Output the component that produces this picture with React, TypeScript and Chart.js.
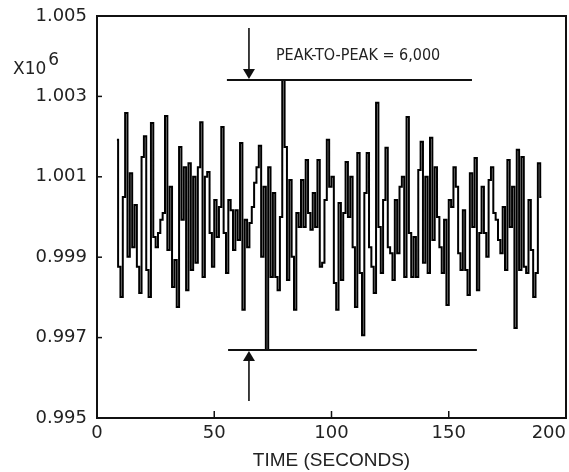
import React, { useEffect, useRef } from 'react';
import { Chart, registerables } from 'chart.js';

Chart.register(...registerables);

// Sampling of the record (seconds)
const START_TIME = 8.5;
const SAMPLE_INTERVAL = 1;

// Signal values (x 10^6)
const signalValues = [
  1.00192, 0.99876, 0.99801, 1.0005, 1.00259, 0.99901, 1.00109, 0.99925, 1.0003, 0.99876,
  0.99811, 1.00149, 1.00201, 0.99868, 0.99801, 1.00234, 0.9995, 0.99925, 0.9996, 0.99993,
  1.0001, 1.00251, 0.99918, 1.00075, 0.99826, 0.99893, 0.99776, 1.00174, 0.99993, 1.00124,
  0.99818, 1.00134, 0.99868, 1.001, 0.99886, 1.00124, 1.00236, 0.99851, 1.001, 1.00112,
  0.9996, 0.99876, 1.00042, 0.9995, 1.00025, 1.00224, 0.9996, 0.99861, 1.00042, 1.00017,
  0.99918, 1.00017, 0.99943, 1.00184, 0.99769, 0.99993, 0.99925, 0.99985, 1.00025, 1.00085,
  1.00124, 1.00177, 0.99901, 1.00075, 0.99669, 1.00124, 0.99851, 1.0006, 0.99851, 0.99818,
  1.0, 1.00341, 1.00174, 0.99843, 1.00092, 0.99901, 0.99769, 1.0001, 0.99975, 1.00092,
  0.99975, 1.00142, 1.0001, 0.99968, 1.0006, 0.99975, 1.00142, 0.99876, 0.99886, 1.00042,
  1.00192, 1.00075, 1.001, 0.99836, 0.99769, 1.00035, 0.99843, 1.0001, 1.00137, 1.0,
  1.001, 0.99925, 0.99776, 1.00159, 0.99861, 0.99706, 1.0006, 1.00159, 0.99925, 0.99876,
  0.99811, 1.00284, 0.99975, 0.99861, 1.00042, 1.00172, 0.99925, 0.9991, 0.99843, 1.00042,
  0.9991, 1.00075, 1.001, 0.99851, 1.00249, 0.9996, 0.99851, 0.9995, 0.99851, 1.00117,
  1.00187, 0.99886, 1.001, 0.99861, 1.00197, 0.99943, 1.00124, 1.0, 0.99925, 0.99861,
  0.99993, 0.99781, 1.00042, 1.00025, 1.00124, 1.00075, 0.9991, 0.99868, 1.00017, 0.99868,
  0.99806, 1.00109, 0.99975, 1.00147, 0.99818, 0.9996, 1.00075, 0.9996, 0.99901, 1.00092,
  1.00124, 1.0001, 0.99993, 0.99943, 0.9991, 1.00025, 0.99868, 1.00142, 0.99975, 1.00075,
  0.99724, 1.00167, 0.99868, 1.00149, 0.99876, 0.99861, 1.00042, 0.99918, 0.99801, 0.99861,
  1.00134, 1.0005,
];

// Axes
const xTickValues = [0, 50, 100, 150, 200];
const yTickValues = [0.995, 0.997, 0.999, 1.001, 1.003, 1.005];
const xAxisTitle = 'TIME (SECONDS)';
const yScaleNote = 'X10';
const yScaleExponent = '6';

// Peak-to-peak annotation
const annotationText = 'PEAK-TO-PEAK = 6,000';
const peakLineTimes = [55.4, 159.9];
const troughLineTimes = [55.9, 162.0];
const arrowTime = 64.8;
const arrowTopValue = 1.0047;
const arrowBottomValue = 0.99542;
const annotationTextTime = 76.3;
const annotationTextValue = 1.004;

const INK = '#111';
const TICK_FONT = '"DejaVu Sans", sans-serif';

const decorPlugin = {
  id: 'decor',
  afterDraw(chart: any) {
    const { ctx, chartArea } = chart;
    const xs = chart.scales.x;
    const ys = chart.scales.y;
    ctx.save();
    ctx.strokeStyle = INK;
    ctx.fillStyle = INK;
    // frame
    ctx.lineWidth = 2;
    ctx.strokeRect(chartArea.left, chartArea.top, chartArea.right - chartArea.left, chartArea.bottom - chartArea.top);
    // inward ticks
    ctx.lineWidth = 1.5;
    yTickValues.forEach((v) => {
      if (v === yTickValues[0] || v === yTickValues[yTickValues.length - 1]) return;
      const py = ys.getPixelForValue(v);
      ctx.beginPath();
      ctx.moveTo(chartArea.left, py);
      ctx.lineTo(chartArea.left + 5, py);
      ctx.stroke();
    });
    xTickValues.forEach((v) => {
      if (v === xTickValues[0] || v === xTickValues[xTickValues.length - 1]) return;
      const px = xs.getPixelForValue(v);
      ctx.beginPath();
      ctx.moveTo(px, chartArea.bottom);
      ctx.lineTo(px, chartArea.bottom - 7);
      ctx.stroke();
    });

    // peak / trough lines
    const peak = Math.max(...signalValues);
    const trough = Math.min(...signalValues);
    const pY = ys.getPixelForValue(peak);
    const tY = ys.getPixelForValue(trough);
    ctx.lineWidth = 2;
    ctx.beginPath();
    ctx.moveTo(xs.getPixelForValue(peakLineTimes[0]), pY);
    ctx.lineTo(xs.getPixelForValue(peakLineTimes[1]), pY);
    ctx.moveTo(xs.getPixelForValue(troughLineTimes[0]), tY);
    ctx.lineTo(xs.getPixelForValue(troughLineTimes[1]), tY);
    ctx.stroke();

    // arrows
    const ax = xs.getPixelForValue(arrowTime);
    const topY = ys.getPixelForValue(arrowTopValue);
    const botY = ys.getPixelForValue(arrowBottomValue);
    const hw = 6;
    const hh = 11;
    ctx.lineWidth = 1.6;
    ctx.beginPath();
    ctx.moveTo(ax, topY);
    ctx.lineTo(ax, pY - hh + 1);
    ctx.moveTo(ax, botY);
    ctx.lineTo(ax, tY + hh - 1);
    ctx.stroke();
    ctx.beginPath();
    ctx.moveTo(ax - hw, pY - hh);
    ctx.lineTo(ax + hw, pY - hh);
    ctx.lineTo(ax, pY - 1);
    ctx.closePath();
    ctx.fill();
    ctx.beginPath();
    ctx.moveTo(ax - hw, tY + hh);
    ctx.lineTo(ax + hw, tY + hh);
    ctx.lineTo(ax, tY + 1);
    ctx.closePath();
    ctx.fill();

    // annotation text
    ctx.font = '16px "Liberation Sans Narrow", "DejaVu Sans Condensed", sans-serif';
    ctx.textAlign = 'left';
    ctx.textBaseline = 'middle';
    ctx.fillStyle = '#222';
    ctx.fillText(annotationText, xs.getPixelForValue(annotationTextTime), ys.getPixelForValue(annotationTextValue));

    // x10^6 note
    ctx.font = '17px ' + TICK_FONT;
    ctx.textBaseline = 'alphabetic';
    const nx = chartArea.left - 84;
    const ny = chartArea.top + 58;
    ctx.fillText(yScaleNote, nx, ny);
    const w = ctx.measureText(yScaleNote).width;
    ctx.fillText(yScaleExponent, nx + w + 2, ny - 9);
    ctx.restore();
  },
};

export default function App() {
  const canvasRef = useRef<HTMLCanvasElement | null>(null);

  useEffect(() => {
    if (!canvasRef.current) return;
    const points = signalValues.map((v, i) => ({ x: START_TIME + i * SAMPLE_INTERVAL, y: v }));
    const chart = new Chart(canvasRef.current, {
      type: 'line',
      data: {
        datasets: [
          {
            data: points,
            borderColor: '#000',
            borderWidth: 2,
            pointRadius: 0,
            stepped: 'middle',
          },
        ],
      },
      options: {
        responsive: false,
        animation: false,
        events: [],
        layout: { autoPadding: false, padding: { top: 16, right: 3, left: 0, bottom: 0 } },
        plugins: { legend: { display: false }, tooltip: { enabled: false } },
        scales: {
          x: {
            type: 'linear',
            min: 0,
            max: 200,
            afterBuildTicks: (s: any) => {
              s.ticks = xTickValues.map((v) => ({ value: v }));
            },
            afterFit: (s: any) => {
              s.height = 54;
              s.paddingLeft = 0;
              s.paddingRight = 0;
            },
            grid: { display: false, drawTicks: false },
            border: { display: false },
            ticks: {
              autoSkip: false,
              maxRotation: 0,
              padding: 5,
              color: '#222',
              font: { family: TICK_FONT, size: 18 },
              callback: (v: any) => (v === 200 ? '200      ' : String(v)),
            },
            title: {
              display: true,
              text: xAxisTitle,
              color: '#222',
              font: { family: '"Liberation Sans", sans-serif', size: 19 },
              padding: { top: 0, bottom: 0 },
            },
          },
          y: {
            type: 'linear',
            min: 0.995,
            max: 1.005,
            afterBuildTicks: (s: any) => {
              s.ticks = yTickValues.map((v) => ({ value: v }));
            },
            afterFit: (s: any) => {
              s.width = 97;
              s.paddingTop = 0;
              s.paddingBottom = 0;
            },
            grid: { display: false, drawTicks: false },
            border: { display: false },
            ticks: {
              padding: 10,
              color: '#222',
              font: { family: TICK_FONT, size: 18 },
              callback: (v: any) => Number(v).toFixed(3),
            },
          },
        },
      },
      plugins: [decorPlugin],
    });
    return () => chart.destroy();
  }, []);

  return (
    <div style={{ position: 'fixed', left: 0, top: 0, width: 569, height: 472, background: '#fff' }}>
      <canvas ref={canvasRef} width={569} height={472} style={{ width: 569, height: 472, display: 'block' }} />
    </div>
  );
}
